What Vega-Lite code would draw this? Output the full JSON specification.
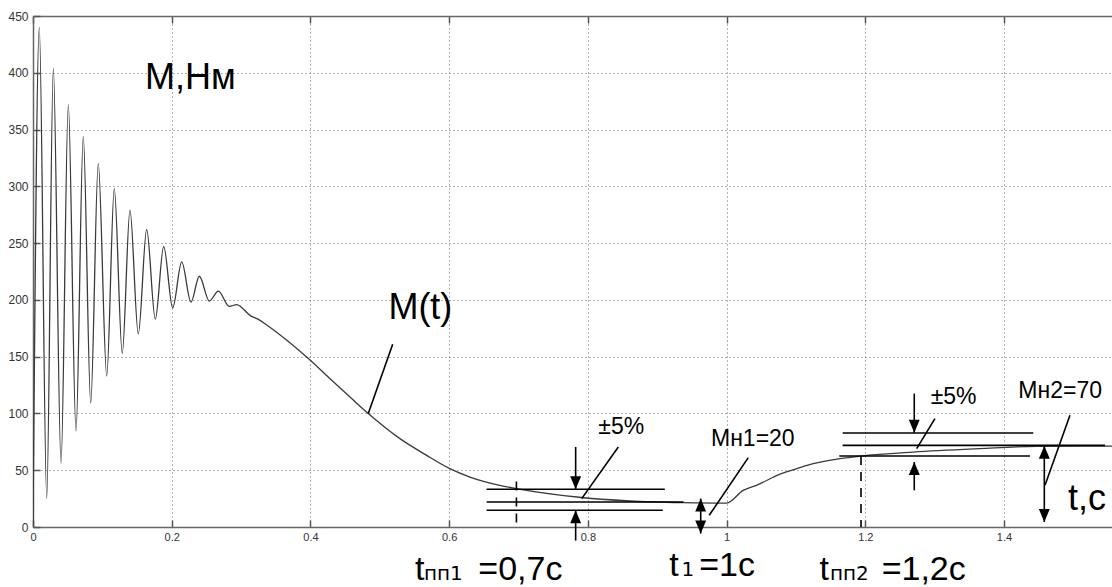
{
  "$schema": "https://vega.github.io/schema/vega-lite/v6.json",
  "width": 1079,
  "height": 511,
  "autosize": "none",
  "padding": {"left": 33, "top": 16, "right": 0, "bottom": 60},
  "background": "white",
  "config": {"view": {"stroke": null}, "text": {"font": "Liberation Sans", "color": "black"}},
  "datasets": {
    "curve": [
      {"t": 0, "M": 0}, {"t": 0.0091, "M": 440}, {"t": 0.0198, "M": 25}, {"t": 0.0293, "M": 404},
      {"t": 0.0404, "M": 56}, {"t": 0.0509, "M": 372}, {"t": 0.062, "M": 84.5}, {"t": 0.0725, "M": 344},
      {"t": 0.0832, "M": 109}, {"t": 0.0941, "M": 320}, {"t": 0.1063, "M": 133}, {"t": 0.1172, "M": 298},
      {"t": 0.1287, "M": 153}, {"t": 0.1398, "M": 279}, {"t": 0.1518, "M": 170}, {"t": 0.1639, "M": 262},
      {"t": 0.1763, "M": 183}, {"t": 0.1884, "M": 247}, {"t": 0.2014, "M": 193}, {"t": 0.2144, "M": 233.4},
      {"t": 0.2278, "M": 198}, {"t": 0.2398, "M": 220.8}, {"t": 0.2542, "M": 199}, {"t": 0.2672, "M": 207.8},
      {"t": 0.283, "M": 194.3}, {"t": 0.2937, "M": 195.8}, {"t": 0.3129, "M": 186.4}, {"t": 0.3273, "M": 182},
      {"t": 0.3345, "M": 179}, {"t": 0.366, "M": 164.4}, {"t": 0.397, "M": 148.3}, {"t": 0.428, "M": 130.7},
      {"t": 0.457, "M": 114.5}, {"t": 0.4834, "M": 99.9}, {"t": 0.529, "M": 77.8}, {"t": 0.5676, "M": 63.1},
      {"t": 0.601, "M": 51.4}, {"t": 0.63, "M": 44}, {"t": 0.673, "M": 36.7}, {"t": 0.697, "M": 33.8},
      {"t": 0.784, "M": 26.4}, {"t": 0.861, "M": 22.9}, {"t": 0.9376, "M": 21.5}, {"t": 1.0, "M": 21.1},
      {"t": 1.024, "M": 32.3}, {"t": 1.043, "M": 36.7}, {"t": 1.077, "M": 46.5}, {"t": 1.106, "M": 52.3},
      {"t": 1.125, "M": 55.8}, {"t": 1.1635, "M": 60.2}, {"t": 1.194, "M": 62.5}, {"t": 1.269, "M": 66},
      {"t": 1.365, "M": 69}, {"t": 1.447, "M": 71}, {"t": 1.5557, "M": 71.3}
    ],
    "hlines": [
      {"t1": 0.654, "t2": 0.911, "M": 33.2}, {"t1": 0.654, "t2": 0.938, "M": 22}, {"t1": 0.654, "t2": 0.908, "M": 14.7},
      {"t1": 1.1674, "t2": 1.4422, "M": 82.8}, {"t1": 1.1674, "t2": 1.5456, "M": 71.9}, {"t1": 1.1625, "t2": 1.4374, "M": 62.5}
    ],
    "dashed": [{"t": 0.697, "M1": 40, "M2": 0}, {"t": 1.1938, "M1": 62.5, "M2": 0}],
    "shafts": [
      {"t": 0.7824, "M1": 70.5, "M2": 33.2}, {"t": 0.7824, "M1": -12, "M2": 14.7}, {"t": 0.9627, "M1": 25, "M2": -5.8},
      {"t": 1.2706, "M1": 117.5, "M2": 83}, {"t": 1.2706, "M1": 32.3, "M2": 57.2}, {"t": 1.4581, "M1": 71.6, "M2": 4.4}
    ],
    "heads": [
      {"t": 0.7824, "M": 33.2, "dir": "down"}, {"t": 0.7824, "M": 14.7, "dir": "up"},
      {"t": 0.9627, "M": 25, "dir": "up"}, {"t": 0.9627, "M": -5.8, "dir": "down"},
      {"t": 1.2706, "M": 83, "dir": "down"}, {"t": 1.2706, "M": 57.2, "dir": "up"},
      {"t": 1.4581, "M": 71.6, "dir": "up"}, {"t": 1.4581, "M": 4.4, "dir": "down"}
    ],
    "leaders": [
      {"t1": 0.5186, "M1": 160.9, "t2": 0.4834, "M2": 99.9}, {"t1": 0.8439, "M1": 70.4, "t2": 0.7911, "M2": 25},
      {"t1": 1.0313, "M1": 61.1, "t2": 0.975, "M2": 10.3}, {"t1": 1.3004, "M1": 95.5, "t2": 1.2741, "M2": 69},
      {"t1": 1.4951, "M1": 98.4, "t2": 1.4591, "M2": 36.7}
    ],
    "bigText": [
      {"t": 0.1615, "M": 386, "text": "М,Нм"}, {"t": 0.5124, "M": 183.5, "text": "M(t)"}, {"t": 1.4922, "M": 15.3, "text": "t,c"}
    ],
    "timeText": [
      {"t": 0.5507, "M": -46.9, "text": "t"}, {"t": 0.642, "M": -46.9, "text": "=0,7c"},
      {"t": 0.9173, "M": -43.1, "text": "t"}, {"t": 0.9605, "M": -43.1, "text": "=1c"},
      {"t": 1.1339, "M": -46.5, "text": "t"}, {"t": 1.2236, "M": -46.5, "text": "=1,2c"}
    ],
    "subText": [
      {"t": 0.5637, "M": -46.9, "text": "пп1"}, {"t": 0.9349, "M": -43.1, "text": "1"}, {"t": 1.149, "M": -46.5, "text": "пп2"}
    ],
    "midText": [
      {"t": 0.815, "M": 82.2, "text": "±5%"}, {"t": 0.9775, "M": 71.1, "text": "Мн1=20"},
      {"t": 1.2943, "M": 108.7, "text": "±5%"}, {"t": 1.4206, "M": 113.9, "text": "Мн2=70"}
    ]
  },
  "resolve": {"axis": {"x": "independent", "y": "independent"}},
  "layer": [
    {
      "data": {"name": "curve"},
      "mark": {"type": "line", "color": "#3a3a3a", "strokeWidth": 1.3, "interpolate": "monotone", "clip": true},
      "encoding": {
        "x": {"field": "t", "type": "quantitative", "scale": {"domain": [0, 1.5557], "nice": false, "zero": false},
          "axis": {"orient": "bottom", "title": null, "values": [0, 0.2, 0.4, 0.6, 0.8, 1, 1.2, 1.4], "format": "~g",
            "grid": true, "gridDash": [1, 3], "gridColor": "#666", "gridWidth": 1, "gridOpacity": 1,
            "tickSize": -7, "tickColor": "#555", "tickWidth": 1.5, "domainColor": "#666", "domainWidth": 1.5,
            "labelPadding": 11, "labelFontSize": 11, "labelColor": "#333", "labelFont": "Liberation Sans",
            "labelFlush": false, "labelOverlap": false}},
        "y": {"field": "M", "type": "quantitative", "scale": {"domain": [0, 450], "nice": false, "zero": false},
          "axis": {"orient": "left", "title": null, "values": [0, 50, 100, 150, 200, 250, 300, 350, 400, 450],
            "grid": true, "gridDash": [1, 3], "gridColor": "#666", "gridWidth": 1, "gridOpacity": 1,
            "tickSize": -7, "tickColor": "#555", "tickWidth": 1.5, "domainColor": "#666", "domainWidth": 1.5,
            "labelPadding": 12, "labelFontSize": 12, "labelColor": "#333", "labelFont": "Liberation Sans",
            "labelFlush": false, "labelOverlap": false}}
      }
    },
    {
      "data": {"name": "hlines"},
      "mark": {"type": "rule", "color": "black", "strokeWidth": 1.6},
      "encoding": {
        "x": {"field": "t1", "type": "quantitative", "scale": {"domain": [0, 1.5557], "nice": false, "zero": false},
          "axis": {"orient": "top", "title": null, "labels": false, "grid": false, "values": [0, 0.2, 0.4, 0.6, 0.8, 1, 1.2, 1.4],
            "tickSize": -7, "tickColor": "#555", "tickWidth": 1.5, "domainColor": "#666", "domainWidth": 1.5}},
        "x2": {"field": "t2"},
        "y": {"field": "M", "type": "quantitative", "scale": {"domain": [0, 450], "nice": false, "zero": false}, "axis": null}
      }
    },
    {
      "data": {"name": "dashed"},
      "mark": {"type": "rule", "color": "black", "strokeWidth": 1.6, "strokeDash": [9, 7]},
      "encoding": {
        "x": {"field": "t", "type": "quantitative", "scale": {"domain": [0, 1.5557], "nice": false, "zero": false}, "axis": null},
        "y": {"field": "M1", "type": "quantitative", "scale": {"domain": [0, 450], "nice": false, "zero": false}, "axis": null},
        "y2": {"field": "M2"}
      }
    },
    {
      "data": {"name": "shafts"},
      "mark": {"type": "rule", "color": "black", "strokeWidth": 1.6},
      "encoding": {
        "x": {"field": "t", "type": "quantitative", "scale": {"domain": [0, 1.5557], "nice": false, "zero": false}, "axis": null},
        "y": {"field": "M1", "type": "quantitative", "scale": {"domain": [0, 450], "nice": false, "zero": false}, "axis": null},
        "y2": {"field": "M2"}
      }
    },
    {
      "data": {"name": "leaders"},
      "mark": {"type": "rule", "color": "black", "strokeWidth": 1.6},
      "encoding": {
        "x": {"field": "t1", "type": "quantitative", "scale": {"domain": [0, 1.5557], "nice": false, "zero": false}, "axis": null},
        "x2": {"field": "t2"},
        "y": {"field": "M1", "type": "quantitative", "scale": {"domain": [0, 450], "nice": false, "zero": false}, "axis": null},
        "y2": {"field": "M2"}
      }
    },
    {
      "data": {"name": "heads"},
      "mark": {"type": "point", "filled": true, "color": "black", "opacity": 1, "size": 676},
      "encoding": {
        "x": {"field": "t", "type": "quantitative", "scale": {"domain": [0, 1.5557], "nice": false, "zero": false}, "axis": null},
        "y": {"field": "M", "type": "quantitative", "scale": {"domain": [0, 450], "nice": false, "zero": false}, "axis": null},
        "shape": {"field": "dir", "type": "nominal", "legend": null,
          "scale": {"domain": ["down", "up"], "range": ["M0,0L-0.42,-1L0.42,-1Z", "M0,0L-0.42,1L0.42,1Z"]}}
      }
    },
    {
      "data": {"name": "bigText"},
      "mark": {"type": "text", "fontSize": 36, "align": "left", "baseline": "alphabetic"},
      "encoding": {
        "x": {"field": "t", "type": "quantitative", "scale": {"domain": [0, 1.5557], "nice": false, "zero": false}, "axis": null},
        "y": {"field": "M", "type": "quantitative", "scale": {"domain": [0, 450], "nice": false, "zero": false}, "axis": null},
        "text": {"field": "text"}
      }
    },
    {
      "data": {"name": "timeText"},
      "mark": {"type": "text", "fontSize": 34, "align": "left", "baseline": "alphabetic"},
      "encoding": {
        "x": {"field": "t", "type": "quantitative", "scale": {"domain": [0, 1.5557], "nice": false, "zero": false}, "axis": null},
        "y": {"field": "M", "type": "quantitative", "scale": {"domain": [0, 450], "nice": false, "zero": false}, "axis": null},
        "text": {"field": "text"}
      }
    },
    {
      "data": {"name": "subText"},
      "mark": {"type": "text", "fontSize": 20, "font": "DejaVu Sans", "align": "left", "baseline": "alphabetic"},
      "encoding": {
        "x": {"field": "t", "type": "quantitative", "scale": {"domain": [0, 1.5557], "nice": false, "zero": false}, "axis": null},
        "y": {"field": "M", "type": "quantitative", "scale": {"domain": [0, 450], "nice": false, "zero": false}, "axis": null},
        "text": {"field": "text"}
      }
    },
    {
      "data": {"name": "midText"},
      "mark": {"type": "text", "fontSize": 23, "align": "left", "baseline": "alphabetic"},
      "encoding": {
        "x": {"field": "t", "type": "quantitative", "scale": {"domain": [0, 1.5557], "nice": false, "zero": false}, "axis": null},
        "y": {"field": "M", "type": "quantitative", "scale": {"domain": [0, 450], "nice": false, "zero": false}, "axis": null},
        "text": {"field": "text"}
      }
    }
  ]
}
